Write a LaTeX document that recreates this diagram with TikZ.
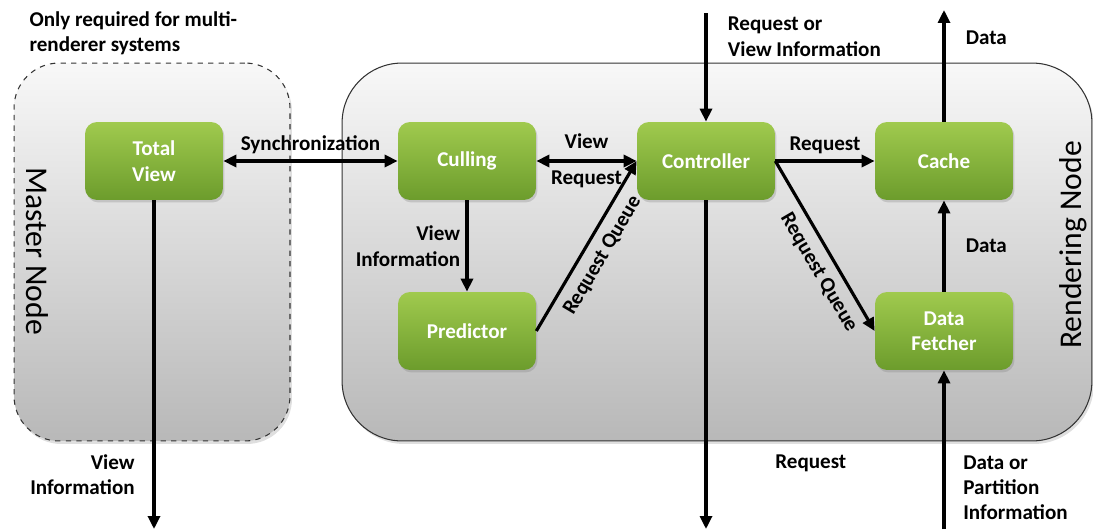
\documentclass[tikz,border=0pt]{standalone}
\usepackage{fontspec}
\setmainfont{Carlito}
\usepackage{tikz}
\usetikzlibrary{shapes,arrows.meta,positioning,calc,shadows}

\definecolor{greentop}{RGB}{160,202,78}
\definecolor{greenbot}{RGB}{108,156,44}
\definecolor{boxtop}{RGB}{248,248,248}
\definecolor{boxbot}{RGB}{184,184,184}

\begin{document}
\begin{tikzpicture}[x=0.02cm, y=-0.02cm,
    >={Triangle[length=0.26cm, width=0.24cm]},
    block/.style={rectangle, rounded corners=0.24cm, minimum width=2.76cm,
        minimum height=1.56cm, top color=greentop, bottom color=greenbot,
        text=white, align=center, font=\fontsize{12}{14.5}\selectfont\bfseries,
        drop shadow={opacity=0.3, shadow xshift=0.03cm, shadow yshift=-0.05cm}},
    container/.style={rectangle, minimum height=7.56cm, top color=boxtop,
        bottom color=boxbot, draw=black!80, line width=0.6pt,
        drop shadow={opacity=0.25, shadow xshift=0.04cm, shadow yshift=-0.06cm}},
    flow/.style={line width=1.8pt},
    lbl/.style={font=\fontsize{12}{14.5}\selectfont\bfseries, inner sep=3pt}]

    \useasboundingbox (0,0) rectangle (1093,531);

    % Containers
    \node[container, dashed, minimum width=5.52cm, rounded corners=0.9cm] (master) at (152,252) {};
    \node[container, minimum width=15cm, rounded corners=1.2cm] (render) at (717,252) {};
    \node[rotate=-90, font=\fontsize{18}{20}\selectfont] (mastertxt) at (37,251) {Master Node};
    \node[rotate=90, font=\fontsize{18}{20}\selectfont] (rendertxt) at (1073,245) {Rendering Node};
    \node[lbl, anchor=west, align=left] (note) at (24,33) {Only required for multi-\\renderer systems};

    % Blocks
    \node[block] (tv) at (154,161) {Total\\View};
    \node[block] (cull) at (467,161) {Culling};
    \node[block] (ctrl) at (706,161) {Controller};
    \node[block] (cache) at (944,161) {Cache};
    \node[block] (pred) at (467,331) {Predictor};
    \node[block] (fetch) at (944,331) {Data\\Fetcher};

    % Free ends
    \coordinate (tvout) at (154,529);
    \coordinate (ctrlin) at (706,13);
    \coordinate (ctrlout) at (706,529);
    \coordinate (cacheout) at (944,10);
    \coordinate (fetchin) at (944,529);

    % Connectors
    \draw[flow, <->] (tv) -- node[lbl, above] {Synchronization} (cull);
    \draw[flow, <->] (cull) -- node[lbl, above, yshift=0.1cm] {View}
        node[lbl, below, yshift=-0.06cm] {Request} (ctrl);
    \draw[flow, ->] (cull) -- node[lbl, left, align=right] {View\\Information} (pred);
    \draw[flow, ->] (pred.east) -- node[lbl, sloped, below, pos=0.5, inner sep=5pt] {Request Queue} (ctrl.west);
    \draw[flow, ->] (ctrl) -- node[lbl, above] {Request} (cache);
    \draw[flow, ->] (ctrl.east) -- node[lbl, sloped, below, pos=0.6, inner sep=5pt] {Request Queue} (fetch.west);
    \draw[flow, ->] (fetch) -- node[lbl, right, xshift=0.3cm] {Data} (cache);
    \draw[flow, ->] (cache) -- node[lbl, right, pos=0.75, xshift=0.3cm] {Data} (cacheout);
    \draw[flow, ->] (ctrlin) -- node[lbl, right, align=left, pos=0.22, xshift=0.3cm] {Request or\\View Information} (ctrl);
    \draw[flow, ->] (ctrl) -- node[lbl, right, pos=0.8, xshift=1.25cm] {Request} (ctrlout);
    \draw[flow, ->] (tv) -- node[lbl, left, align=right, pos=0.835, xshift=-0.25cm] {View\\Information} (tvout);
    \draw[flow, ->] (fetchin) -- node[lbl, right, align=left, pos=0.26, xshift=0.25cm] {Data or\\Partition\\Information} (fetch);

\end{tikzpicture}
\end{document}
